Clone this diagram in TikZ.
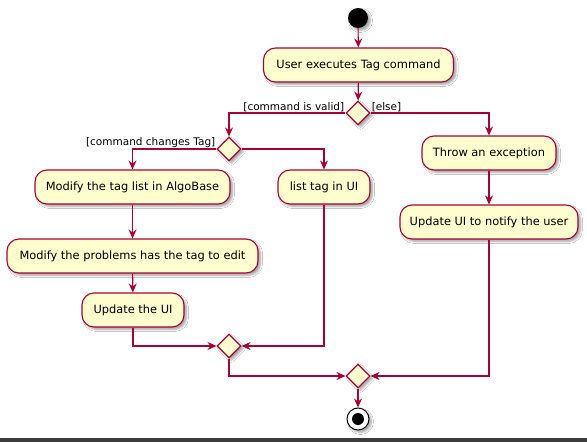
\documentclass[tikz,border=0pt]{standalone}
\usepackage{fontspec}
\setmainfont{DejaVu Sans}
\usetikzlibrary{arrows.meta,shapes.geometric,shadows.blur}
\definecolor{pfill}{HTML}{FEFECE}
\definecolor{pline}{HTML}{A80036}
\definecolor{barcol}{HTML}{3C3C3C}
\begin{document}
\begin{tikzpicture}[x=1pt,y=-1pt,
  shad/.style={blur shadow={shadow xshift=2.5pt,shadow yshift=-2.5pt,shadow opacity=35,shadow blur steps=5,shadow blur radius=2pt}},
  act/.style={draw=pline,fill=pfill,line width=1.1pt,rounded corners=12pt,minimum height=34pt,inner sep=0pt,font=\fontsize{11.4}{13}\selectfont,shad},
  dec/.style={draw=pline,fill=pfill,line width=1.1pt,diamond,minimum width=24pt,minimum height=24pt,inner sep=0pt,shad},
  lbl/.style={font=\fontsize{10.5}{12}\selectfont,inner sep=1pt},
  flow/.style={draw=pline,line width=1.1pt,-{Stealth[length=9pt,width=8pt,inset=3pt]}},
  plain/.style={draw=pline,line width=1.1pt}]
\useasboundingbox (0,0) rectangle (587,442);
\fill[white] (0,0) rectangle (587,442);
\fill[barcol] (0,438) rectangle (587,442);
% start
\node[circle,fill=black,minimum size=20pt,inner sep=0pt,shad] (start) at (358,18) {};
\node[act,minimum width=190pt] (a1) at (358.5,65) {User executes Tag command};
\node[dec] (d1) at (358,113) {};
\node[dec] (d2) at (229,149) {};
\node[act,minimum width=195pt] (tagmod) at (132.5,187) {Modify the tag list in AlgoBase};
\node[act,minimum width=251pt] (probs) at (132.5,256) {Modify the problems has the tag to edit};
\node[act,minimum width=102pt] (upd) at (133,310) {Update the UI};
\node[act,minimum width=92pt] (listui) at (324,187) {list tag in UI};
\node[act,minimum width=134pt] (throw) at (489,153) {Throw an exception};
\node[act,minimum width=178pt] (notify) at (489,222) {Update UI to notify the user};
\node[dec] (d3) at (229,346) {};
\node[dec] (d4) at (358,376) {};
\node[circle,draw=black,fill=white,line width=1pt,minimum size=22pt,inner sep=0pt,shad] (stop) at (358,419) {};
\node[circle,fill=black,minimum size=12pt,inner sep=0pt] (stopin) at (stop.center) {};
% labels
\node[lbl,anchor=south east] (lvalid) at (d1.west) {[command is valid]};
\node[lbl,anchor=south west] (lelse) at (d1.east) {[else]};
\node[lbl,anchor=south east] (lchg) at (d2.west) {[command changes Tag]};
% connectors
\draw[flow] (start) -- (a1);
\draw[flow] (a1) -- (d1);
\draw[flow] (d1.west) -| (d2.north);
\draw[flow] (d1.east) -| (throw.north);
\draw[flow] (d2.west) -| (tagmod.north);
\draw[flow] (d2.east) -| (listui.north);
\draw[flow] (tagmod) -- (probs);
\draw[flow] (probs) -- (upd);
\draw[flow] (throw) -- (notify);
\draw[flow] (upd.south) |- (d3.west);
\draw[flow] (listui.south) |- (d3.east);
\draw[flow] (d3.south) |- (d4.west);
\draw[flow] (notify.south) |- (d4.east);
\draw[flow] (d4.south) -- (stop.north);
\end{tikzpicture}
\end{document}
